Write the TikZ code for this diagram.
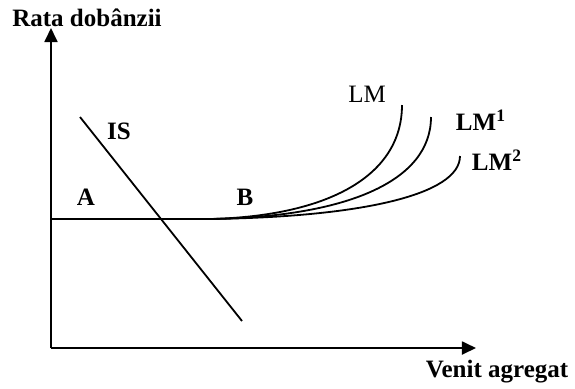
\documentclass[tikz,border=0pt]{standalone}
\usepackage{fontspec}
\setmainfont{Liberation Serif}
\usetikzlibrary{arrows.meta}

\begin{document}
\begin{tikzpicture}[x=0.5pt, y=-0.5pt, >={Triangle[length=7pt,width=6.5pt]}, line width=0.9pt,
    every node/.style={font=\fontsize{12.5}{15}\selectfont},
    lbl/.style={font=\fontsize{12.5}{15}\selectfont\bfseries}]
    \useasboundingbox (0,0) rectangle (575,388);

    % axes
    \coordinate (O) at (51,348);
    \coordinate (ytop) at (51,28);
    \coordinate (xend) at (476,348);
    \draw[->] (O) -- (ytop);
    \draw[->] (O) -- (xend);
    \node[lbl] (ylab) at (87,18) {Rata dob\^anzii};
    \node[lbl] (xlab) at (497,372) {Venit agregat};

    % liquidity trap segment and LM curves
    \coordinate (A0) at (51,219);
    \coordinate (B0) at (210,219);
    \coordinate (lm) at (402,105);
    \coordinate (lm1) at (431,117);
    \coordinate (lm2) at (460,156);
    \draw (A0) -- (B0);
    \draw (B0) .. controls (330,216) and (402,175) .. (lm);
    \draw (B0) .. controls (345,217) and (431,182) .. (lm1);
    \draw (B0) .. controls (360,217) and (460,195) .. (lm2);

    % IS
    \coordinate (is1) at (80,117);
    \coordinate (is2) at (242,321);
    \draw (is1) -- (is2);

    \node[lbl] (nIS) at (119,131) {IS};
    \node[lbl] (nA) at (86,197) {A};
    \node[lbl] (nB) at (245,197) {B};
    \node (nLM) at (367,94) {LM};
    \node[lbl] (nLM1) at (481,120) {LM$^{\mathbf{1}}$};
    \node[lbl] (nLM2) at (497,160) {LM$^{\mathbf{2}}$};
\end{tikzpicture}
\end{document}
